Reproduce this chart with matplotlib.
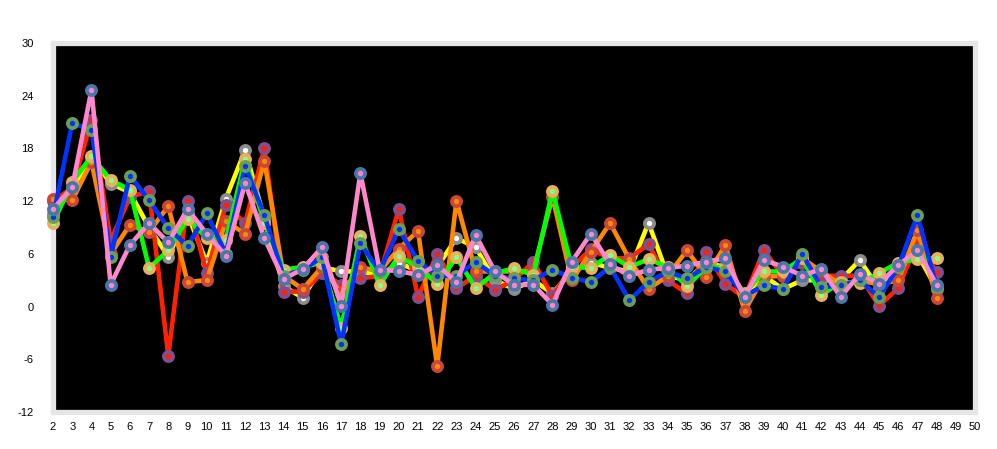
import numpy as np
import matplotlib
matplotlib.use("Agg")
import matplotlib.pyplot as plt

x = list(range(2, 49))

red = [12.0, 13.5, 21.2, 7.5, 12.5, 13.1, -5.6, 12.05, 3.8, 11.6,
       9.5, 18.0, 1.7, 1.7, 3.8, 2.5, 3.2, 3.5, 11.1, 1.1,
       6.0, 2.1, 3.5, 1.9, 3.0, 5.1, 1.2, 4.5, 6.5, 5.5,
       5.5, 7.1, 3.0, 1.5, 6.2, 2.6, 1.0, 6.4, 3.5, 5.0,
       3.5, 3.5, 3.5, 0.1, 2.1, 7.5, 3.9]
yellow = [10.5, 13.5, 17.0, 14.0, 13.0, 9.0, 5.7, 10.5, 5.0, 12.3,
          17.8, 10.0, 2.3, 1.0, 4.5, 4.0, 4.0, 3.5, 5.0, 4.0,
          4.5, 7.8, 6.75, 3.0, 2.0, 3.0, 1.5, 4.0, 5.0, 4.4,
          4.0, 9.55, 3.5, 3.0, 5.0, 4.5, 1.0, 3.5, 2.0, 3.0,
          3.0, 3.0, 5.3, 2.0, 4.5, 6.0, 2.0]
orange = [12.3, 12.1, 16.5, 6.0, 9.3, 8.5, 11.45, 2.8, 3.0, 9.7,
          8.3, 16.6, 3.5, 2.0, 4.5, 1.5, 4.5, 4.0, 6.6, 8.6,
          -6.8, 12.05, 4.0, 4.0, 4.0, 4.0, 12.5, 3.0, 6.25, 9.5,
          5.4, 2.0, 3.5, 6.4, 3.4, 7.0, -0.5, 3.4, 3.5, 5.5,
          4.0, 2.5, 3.0, 2.5, 3.0, 8.7, 0.95]
green = [9.5, 14.2, 17.1, 14.4, 13.3, 4.4, 6.4, 10.0, 7.8, 7.6,
         16.8, 9.5, 4.2, 4.5, 5.0, -2.4, 8.0, 2.5, 5.75, 4.5,
         2.6, 5.6, 2.1, 3.8, 4.35, 3.6, 13.2, 4.5, 4.4, 5.9,
         4.5, 5.4, 4.5, 2.3, 4.5, 4.5, 1.5, 4.0, 4.0, 5.5,
         1.3, 2.8, 2.65, 3.8, 5.0, 5.4, 5.5]
blue = [10.2, 20.9, 20.1, 5.7, 14.9, 12.1, 8.9, 6.9, 10.6, 6.0,
        16.0, 10.4, 3.5, 4.2, 5.6, -4.3, 7.2, 4.0, 8.8, 5.2,
        3.5, 3.5, 5.1, 3.5, 3.2, 3.0, 4.2, 3.3, 2.8, 4.5,
        0.7, 2.8, 4.0, 3.2, 4.5, 4.0, 1.2, 2.4, 2.0, 6.0,
        2.2, 2.4, 3.0, 1.05, 4.5, 10.4, 2.2]
pink = [11.1, 13.6, 24.65, 2.5, 7.0, 9.5, 7.3, 11.1, 8.3, 5.75,
        14.1, 7.8, 3.1, 4.3, 6.75, 0.1, 15.2, 4.2, 4.05, 3.6,
        4.7, 2.8, 8.15, 4.0, 2.45, 2.5, 0.2, 5.1, 8.3, 4.8,
        3.5, 4.2, 4.4, 4.65, 5.1, 5.5, 1.05, 5.3, 4.55, 3.5,
        4.3, 1.1, 3.7, 2.6, 4.7, 6.4, 2.5]

# (values, line colour, marker fill, marker edge), drawn bottom to top
series = [
    (yellow, "#ffff00", "#ffffff", "#8c8c8c"),
    (red, "#ff2200", "#ff2200", "#7f4f8f"),
    (orange, "#ff8800", "#ff8800", "#c8473c"),
    (green, "#00ff00", "#88ff88", "#e8b05a"),
    (blue, "#0033ff", "#0033ff", "#6b9e52"),
    (pink, "#ff88cc", "#ff88cc", "#4a77a8"),
]

yticks = [-12, -6, 0, 6, 12, 18, 24, 30]
xticks = list(range(2, 51))


def main():
    plt.rcParams["font.family"] = ["Liberation Sans", "DejaVu Sans"]
    plt.rcParams["axes.unicode_minus"] = False
    fig = plt.figure(figsize=(9.97, 4.49), dpi=100)
    ax = fig.add_axes([0.0532, 0.0824, 0.9248, 0.8218])
    ax.set_facecolor("black")

    for vals, lc, fc, ec in series:
        ax.plot(x, vals, color=lc, lw=3.3, marker="o", ms=6.6,
                mfc=fc, mec=ec, mew=2.7, clip_on=False, zorder=3)

    ax.set_xlim(2, 50)
    ax.set_ylim(-12, 30)
    ax.set_xticks(xticks)
    ax.set_yticks(yticks)
    ax.tick_params(length=0, labelsize=8, colors="black")
    ax.tick_params(axis="y", pad=14)
    ax.tick_params(axis="x", pad=7)
    for s in ax.spines.values():
        s.set_color("#e6e6e6")
        s.set_linewidth(3.8)
        s.set_zorder(2)

    fig.savefig("out.png", dpi=100, facecolor="white")


if __name__ == "__main__":
    main()
